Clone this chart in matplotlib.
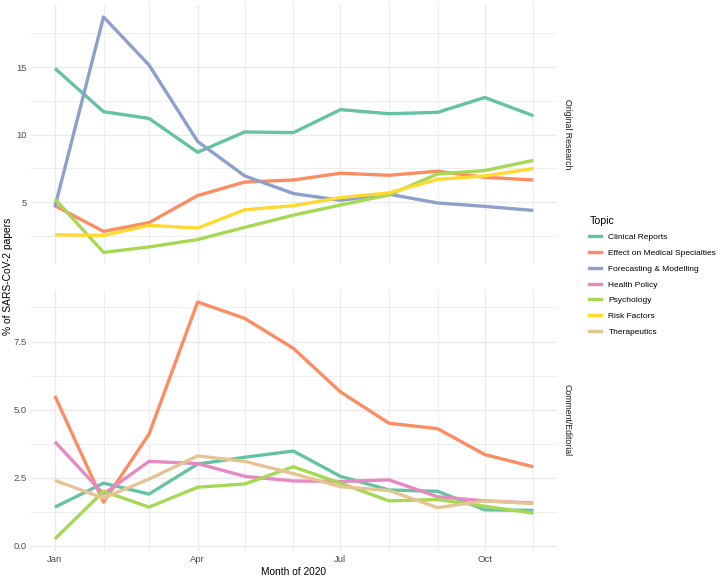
import datetime as dt
import matplotlib
matplotlib.use('Agg')
import matplotlib.pyplot as plt
import matplotlib.dates as mdates
from matplotlib.lines import Line2D
from matplotlib.ticker import MultipleLocator

plt.rcParams['font.family'] = ['Liberation Sans', 'DejaVu Sans']

months = [dt.date(2020, m, 1) for m in range(1, 12)]

topics = ['Clinical Reports', 'Effect on Medical Specialties', 'Forecasting & Modelling',
          'Health Policy', 'Psychology', 'Risk Factors', 'Therapeutics']
colors = ['#66C2A5', '#FC8D62', '#8DA0CB', '#E78AC3', '#A6D854', '#FFD92F', '#E5C494']

# Original Research (%)
clinical_or = [14.9, 11.7, 11.2, 8.7, 10.2, 10.15, 11.85, 11.55, 11.65, 12.75, 11.4]
effect_or = [4.75, 2.85, 3.5, 5.5, 6.5, 6.65, 7.15, 7.0, 7.3, 6.85, 6.65]
forecast_or = [4.65, 18.7, 15.15, 9.5, 6.95, 5.65, 5.15, 5.6, 4.95, 4.7, 4.4]
psych_or = [5.25, 1.3, 1.7, 2.25, 3.15, 4.05, 4.8, 5.55, 7.1, 7.35, 8.1]
risk_or = [2.6, 2.55, 3.3, 3.1, 4.45, 4.75, 5.35, 5.7, 6.7, 6.95, 7.5]

# Comment/Editorial (%)
clinical_ce = [1.42, 2.3, 1.9, 3.0, 3.25, 3.48, 2.55, 2.05, 2.0, 1.32, 1.3]
effect_ce = [5.5, 1.6, 4.1, 8.95, 8.35, 7.25, 5.65, 4.5, 4.3, 3.35, 2.9]
health_ce = [3.82, 1.9, 3.1, 3.02, 2.55, 2.38, 2.36, 2.42, 1.8, 1.65, 1.57]
psych_ce = [0.25, 2.0, 1.42, 2.15, 2.27, 2.9, 2.3, 1.65, 1.7, 1.45, 1.2]
thera_ce = [2.4, 1.75, 2.45, 3.3, 3.1, 2.65, 2.17, 2.03, 1.4, 1.65, 1.55]

panels = [
    ('Original Research', {'Clinical Reports': clinical_or,
                           'Effect on Medical Specialties': effect_or,
                           'Forecasting & Modelling': forecast_or,
                           'Psychology': psych_or,
                           'Risk Factors': risk_or}, 5, 2.5, '%d'),
    ('Comment/Editorial', {'Clinical Reports': clinical_ce,
                           'Effect on Medical Specialties': effect_ce,
                           'Health Policy': health_ce,
                           'Psychology': psych_ce,
                           'Therapeutics': thera_ce}, 2.5, 1.25, '%.1f'),
]

fig = plt.figure(figsize=(7.2, 5.78), dpi=100)
boxes = [[0.043, 0.543, 0.731, 0.448], [0.043, 0.047, 0.731, 0.451]]
grid_col = '#EBEBEB'

for (name, series, major, minor, fmt), box in zip(panels, boxes):
    ax = fig.add_axes(box)
    for topic, col in zip(topics, colors):
        if topic in series:
            ax.plot(months, series[topic], color=col, lw=2.4, solid_capstyle='butt')
    ax.margins(0.05)
    ax.yaxis.set_major_locator(MultipleLocator(major))
    ax.yaxis.set_minor_locator(MultipleLocator(minor))
    ax.yaxis.set_major_formatter(matplotlib.ticker.FormatStrFormatter(fmt))
    ax.xaxis.set_major_locator(mdates.MonthLocator(bymonth=[1, 4, 7, 10]))
    ax.xaxis.set_minor_locator(mdates.MonthLocator())
    ax.xaxis.set_major_formatter(mdates.DateFormatter('%b'))
    ax.grid(True, which='major', color=grid_col, lw=1.0)
    ax.grid(True, which='minor', color=grid_col, lw=0.6)
    ax.set_axisbelow(True)
    for s in ax.spines.values():
        s.set_visible(False)
    ax.tick_params(which='both', length=0, labelsize=6.8, colors='#4D4D4D', pad=3)
    ax.text(1.01, 0.5, name, transform=ax.transAxes, rotation=-90,
            va='center', ha='left', fontsize=6.3, color='#1A1A1A')
    if name == 'Original Research':
        ax.tick_params(axis='x', labelbottom=False)

fig.text(0.011, 0.522, '% of SARS-CoV-2 papers', rotation=90, va='center',
         ha='center', fontsize=7.4, color='black')
fig.text(0.408, 0.011, 'Month of 2020', ha='center', va='center', fontsize=7.3, color='black')

handles = [Line2D([], [], color=c, lw=2.4) for c in colors]
leg = fig.legend(handles, topics, title='Topic', loc='upper left',
                 bbox_to_anchor=(0.808, 0.64), frameon=False, fontsize=6.0,
                 title_fontsize=7.6, handlelength=1.35, handletextpad=0.95,
                 labelspacing=0.95, alignment='left')

fig.savefig('out.png', dpi=100)
